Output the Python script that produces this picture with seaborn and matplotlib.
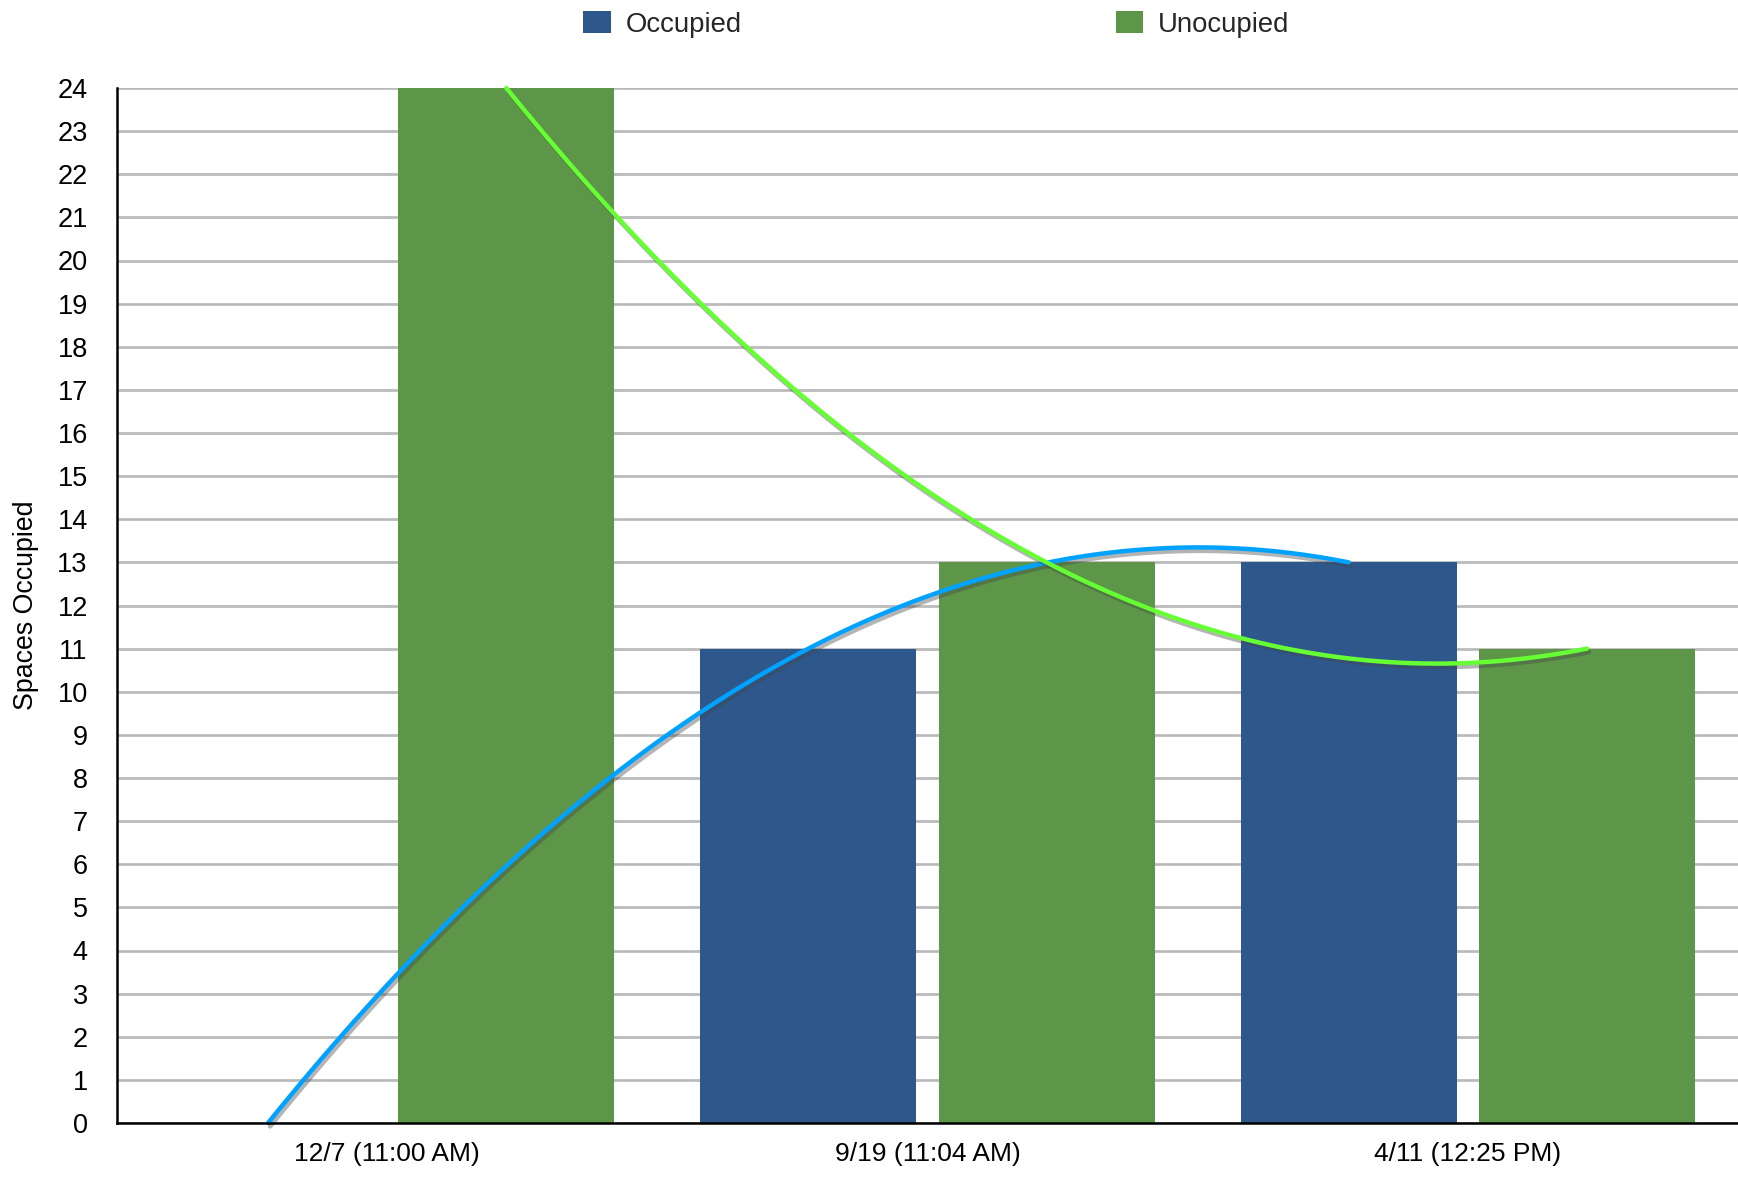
import numpy as np
import pandas as pd
import matplotlib
matplotlib.use("Agg")
import matplotlib.pyplot as plt
import matplotlib.patheffects as pe
from matplotlib.patches import Patch
import seaborn as sns

# ---- data ----
dates = ["12/7 (11:00 AM)", "9/19 (11:04 AM)", "4/11 (12:25 PM)"]
occupied = [0, 11, 13]
unoccupied = [24, 13, 11]
series_names = ["Occupied", "Unocupied"]
y_ticks = list(range(0, 25))

# ---- style ----
bar_blue = "#2e588c"
bar_green = "#5d9649"
line_blue = "#00a2ff"
line_green = "#66ff33"

sns.set_theme(style="white")
plt.rcParams["font.family"] = ["Liberation Sans", "DejaVu Sans"]

df = pd.DataFrame({
    "date": dates * 2,
    "spaces": occupied + unoccupied,
    "status": [series_names[0]] * 3 + [series_names[1]] * 3,
})

fig = plt.figure(figsize=(17.38, 11.77), dpi=100)
ax = fig.add_axes([117 / 1738, 54 / 1177, 1621 / 1738, 1035 / 1177])

sns.barplot(data=df, x="date", y="spaces", hue="status",
            palette=[bar_blue, bar_green], width=0.882, gap=0.093,
            saturation=1, linewidth=0, legend=False, ax=ax, zorder=2)

# quadratic trend lines through each series (at bar centres)
off = 0.2205
x_idx = np.arange(len(dates))
shadow = [pe.SimpleLineShadow(offset=(1.5, -2.5), shadow_color="#444444", alpha=0.4),
          pe.Normal()]
sns.regplot(x=x_idx - off, y=np.array(occupied, float), order=2, ci=None,
            scatter=False, truncate=True, color=line_blue, ax=ax,
            line_kws=dict(lw=3.2, clip_on=False, path_effects=shadow, zorder=4))
sns.regplot(x=x_idx + off, y=np.array(unoccupied, float), order=2, ci=None,
            scatter=False, truncate=True, color=line_green, ax=ax,
            line_kws=dict(lw=3.2, clip_on=False, path_effects=shadow, zorder=4))

ax.set_xlim(-0.5, 2.5)
ax.set_ylim(0, 24)
ax.set_xticks(x_idx)
ax.set_xticklabels(dates)
ax.set_yticks(y_ticks)
ax.set_yticklabels([str(v) for v in y_ticks])
ax.tick_params(axis="both", length=0, colors="black")
ax.tick_params(axis="y", pad=21, labelsize=19.5)
ax.tick_params(axis="x", pad=14, labelsize=19)
ax.set_xlabel("")
ax.set_ylabel("Spaces Occupied", fontsize=19.3, color="black")
ax.yaxis.set_label_coords(-(117 - 39) / 1621, 0.5)

ax.yaxis.grid(True, color="#bbbbbb", lw=2.0)
ax.xaxis.grid(False)
ax.set_axisbelow(True)
for s in ["top", "right"]:
    ax.spines[s].set_visible(False)
for s in ["left", "bottom"]:
    ax.spines[s].set_color("black")
    ax.spines[s].set_linewidth(1.8)
    ax.spines[s].set_zorder(5)

handles = [Patch(facecolor=bar_blue, edgecolor="none"),
           Patch(facecolor=bar_green, edgecolor="none")]
fig.legend(handles, series_names, loc="upper left", ncol=2, frameon=False,
           bbox_to_anchor=(583 / 1738, 1 - 11 / 1177), borderaxespad=0,
           borderpad=0, fontsize=19.8, handlelength=1.0, handleheight=0.88,
           handletextpad=0.55, columnspacing=13.6)

fig.savefig("out.png", dpi=100)
